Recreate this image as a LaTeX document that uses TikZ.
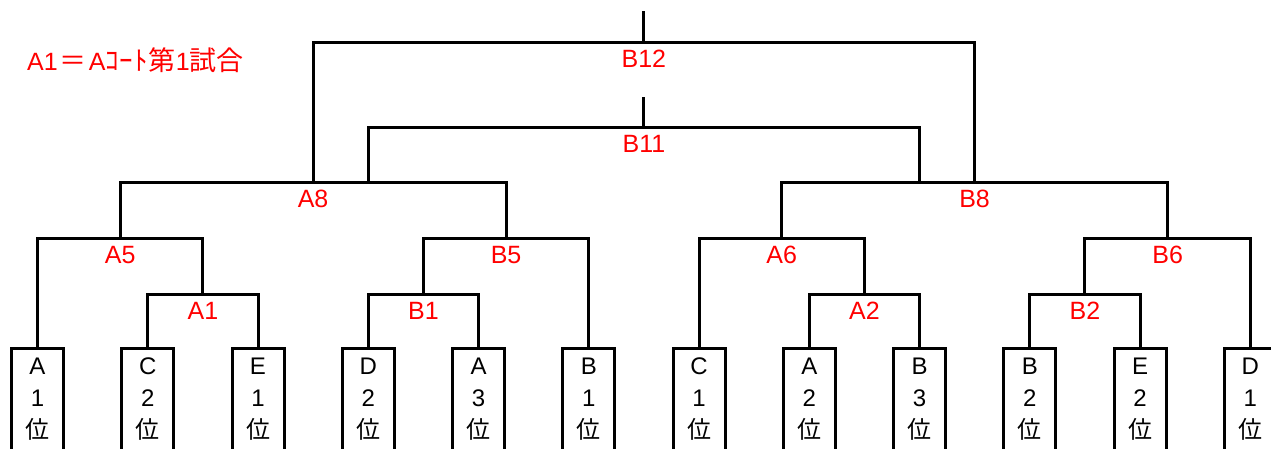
\documentclass[tikz,border=0pt]{standalone}
\usepackage{fontspec}
\setmainfont{Liberation Sans}
\newfontfamily\jpfont{Noto Sans CJK JP}
\usetikzlibrary{positioning}

\tikzset{
	team/.style={draw, line width=3pt, anchor=north, minimum width=52pt,
		inner sep=0pt, outer sep=0pt, text height=26pt, text depth=100pt,
		font=\fontsize{24}{32}\selectfont},
	match/.style={text=red, inner sep=3pt, font=\fontsize{25}{30}\selectfont},
	bracket/.style={line width=3pt}
}
\newcommand{\jptext}[1]{{\jpfont\fontsize{27}{30}\selectfont #1}}

\begin{document}
\begin{tikzpicture}[x=1pt, y=-1pt]

		\useasboundingbox (0,0) rectangle (1271,448);
		\clip (0,0) rectangle (1271,448);

		\node[match, anchor=west, inner sep=0pt] (note) at (27,60)
			{A1\hspace{2pt}\jptext{＝}\hspace{2pt}A\jptext{ｺ\hspace{1pt}ｰ\hspace{1pt}ﾄ}\hspace{1pt}\jptext{第}1\jptext{試合}};

		% teams
		\foreach \i/\g/\r in {1/A/1, 2/C/2, 3/E/1, 4/D/2, 5/A/3, 6/B/1,
			7/C/1, 8/A/2, 9/B/3, 10/B/2, 11/E/2, 12/D/1}
			\node[team] (t\i) at ({37.5+110.25*(\i-1)},348)
				{\begin{tabular}[t]{@{}c@{}} \g \\ \r \\ {\jpfont 位} \end{tabular}};

		% junctions
		\coordinate (a1j) at (202.9,294);
		\coordinate (b1j) at (423.4,294);
		\coordinate (a2j) at (864.4,294);
		\coordinate (b2j) at (1084.9,294);
		\coordinate (a5j) at (120.2,238);
		\coordinate (b5j) at (506.1,238);
		\coordinate (a6j) at (781.7,238);
		\coordinate (b6j) at (1167.6,238);
		\coordinate (a8j) at (313.1,182);
		\coordinate (b8j) at (974.6,182);
		\coordinate (b11l) at (t4 |- a8j);
		\coordinate (b11r) at (t9 |- b8j);
		\coordinate (b11j) at (643.9,127);
		\coordinate (b11top) at (643.9,97);
		\coordinate (b12j) at (643.9,42);
		\coordinate (b12top) at (643.9,11);

		% brackets
		\draw[bracket] (t2.north) |- (a1j) -| (t3.north);
		\draw[bracket] (t4.north) |- (b1j) -| (t5.north);
		\draw[bracket] (t8.north) |- (a2j) -| (t9.north);
		\draw[bracket] (t10.north) |- (b2j) -| (t11.north);
		\draw[bracket] (t1.north) |- (a5j) -| (a1j);
		\draw[bracket] (b1j) |- (b5j) -| (t6.north);
		\draw[bracket] (t7.north) |- (a6j) -| (a2j);
		\draw[bracket] (b2j) |- (b6j) -| (t12.north);
		\draw[bracket] (a5j) |- (a8j) -| (b5j);
		\draw[bracket] (a6j) |- (b8j) -| (b6j);
		\draw[bracket] (b11l) |- (b11j) -| (b11r);
		\draw[bracket] (b11j) -- (b11top);
		\draw[bracket] (a8j) |- (b12j) -| (b8j);
		\draw[bracket] (b12j) -- (b12top);

		% match labels
		\node[match, below=5pt of a1j] (a1) {A1};
		\node[match, below=5pt of b1j] (b1) {B1};
		\node[match, below=5pt of a2j] (a2) {A2};
		\node[match, below=5pt of b2j] (b2) {B2};
		\node[match, below=5pt of a5j] (a5) {A5};
		\node[match, below=5pt of b5j] (b5) {B5};
		\node[match, below=5pt of a6j] (a6) {A6};
		\node[match, below=5pt of b6j] (b6) {B6};
		\node[match, below=5pt of a8j] (a8) {A8};
		\node[match, below=5pt of b8j] (b8) {B8};
		\node[match, below=5pt of b11j] (b11) {B11};
		\node[match, below=5pt of b12j] (b12) {B12};

	\end{tikzpicture}
\end{document}
